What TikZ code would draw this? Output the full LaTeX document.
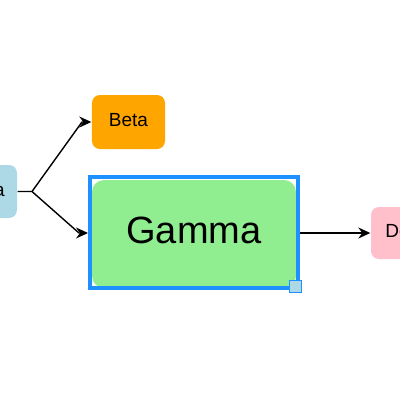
\documentclass[tikz,border=0pt]{standalone}
\usepackage{fontspec}
\setmainfont{Liberation Sans}
\usepackage {tikz}
\usetikzlibrary{arrows.meta}

\definecolor{alphablue}{HTML}{ADD8E6}
\definecolor{betaorange}{HTML}{FFA500}
\definecolor{gammagreen}{HTML}{90EE90}
\definecolor{deltapink}{HTML}{FFC0CB}
\definecolor{selblue}{HTML}{1E90FF}

\begin{document}
\begin{tikzpicture}[x=1bp, y=-1bp, line width=1.4bp,
                    main node/.style={rectangle,rounded corners=8bp,inner sep=0pt,
                      text height=13.7bp,text depth=4.2bp,
                      minimum width=73bp,minimum height=53bp,
                      font=\fontsize{19bp}{21bp}\selectfont},
                    link/.style={-{Stealth[length=12bp,width=11bp,inset=4bp]}}]
  \useasboundingbox (0,0) rectangle (400,400);

  \node[main node,fill=alphablue] (alpha) at (-19.5,191.5) {Alpha};
  \node[main node,fill=betaorange,minimum height=54bp] (beta) at (128.5,122) {Beta};
  \node[main node,fill=gammagreen,rounded corners=12bp,minimum width=204bp,
        minimum height=108bp,text height=27.4bp,text depth=8.4bp,
        font=\fontsize{38bp}{42bp}\selectfont] (gamma) at (194,234) {Gamma};
  \node[main node,fill=deltapink,minimum height=52bp] (delta) at (407.5,233) {Delta};

  % selection frame and handle
  \node[draw=selblue,line width=4bp,rectangle,inner sep=0pt,
        minimum width=208bp,minimum height=111bp] (sel) at (194,232.5) {};
  \node[draw=selblue,line width=1bp,fill=alphablue,inner sep=0pt,
        minimum size=12bp] (handle) at (295.5,286.5) {};

  \coordinate (split) at (32,191.5);
  \coordinate (up) at (82,122);
  \coordinate (down) at (79,233);

  \draw[link] (alpha.east) -- (split) -- (up) -- (beta.west);
  \draw[link] (split) -- (down) -- (sel.west |- down);
  \draw[link] (sel.east |- delta) -- (delta.west);
\end{tikzpicture}
\end{document}
